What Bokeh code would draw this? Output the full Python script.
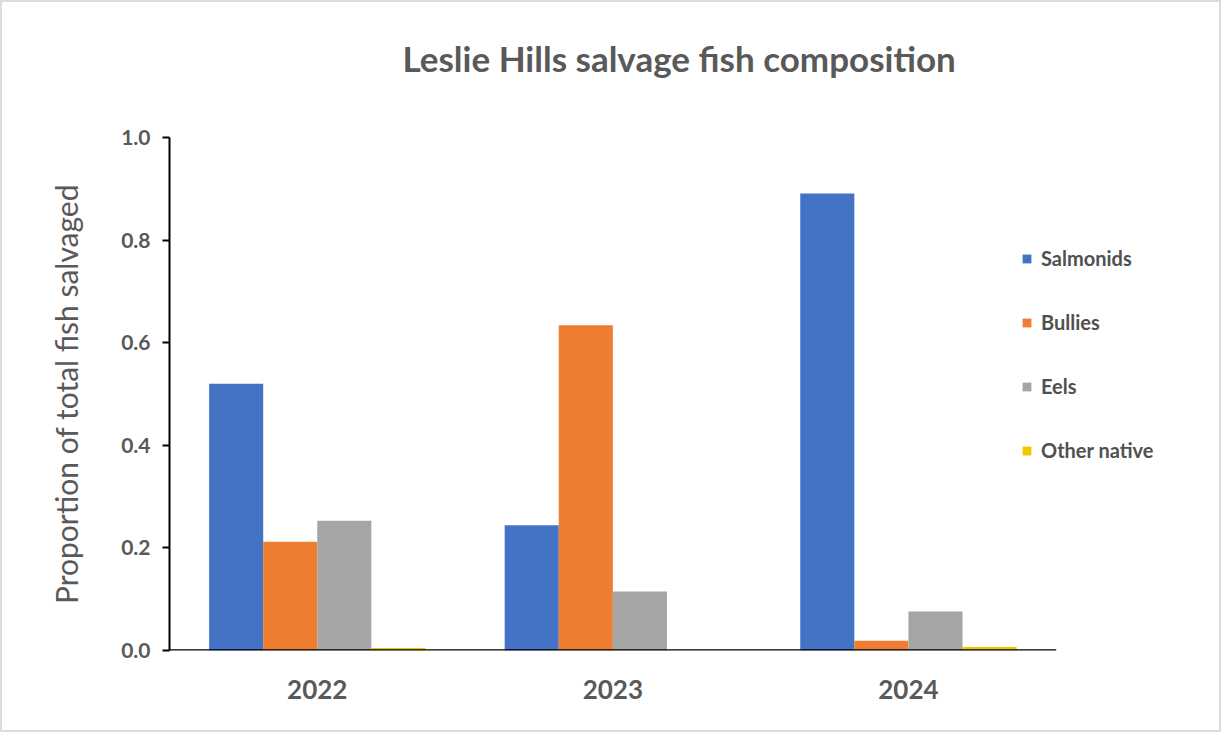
from bokeh.plotting import figure
from bokeh.models import ColumnDataSource, Range1d, Legend, LegendItem, Title, FixedTicker, NumeralTickFormatter
from bokeh.embed import file_html
from bokeh.resources import INLINE

years = ["2022", "2023", "2024"]
species = ["Salmonids", "Bullies", "Eels", "Other native"]
salmonids = [0.520, 0.244, 0.891]
bullies = [0.212, 0.634, 0.019]
eels = [0.253, 0.115, 0.076]
other_native = [0.005, 0.0, 0.007]
colors = ["#4472C4", "#ED7D31", "#A5A5A5", "#F0C800"]
title_text = "Leslie Hills salvage fish composition"
y_label = "Proportion of total fish salvaged"
y_ticks = [0.0, 0.2, 0.4, 0.6, 0.8, 1.0]

xpos = [i + 0.5 for i in range(len(years))]
src = ColumnDataSource(dict(x=xpos, Salmonids=salmonids, Bullies=bullies,
                            Eels=eels, Other=other_native))

FONT = "Lato"
n = len(years)
p = figure(x_range=Range1d(0, n + 0.566), y_range=Range1d(0, 1.0),
           width=1221, height=732, output_backend="svg", toolbar_location=None,
           min_border_left=167, min_border_right=0, min_border_top=135, min_border_bottom=84)
p.styles = {"border": "2px solid #dcdcdc"}
p.outline_line_color = None
p.xgrid.grid_line_color = None
p.ygrid.grid_line_color = None

bw = 0.183
offsets = [-1.5 * bw, -0.5 * bw, 0.5 * bw, 1.5 * bw]
cols = ["Salmonids", "Bullies", "Eels", "Other"]
items = []
for c, off, col, name in zip(cols, offsets, colors, species):
    r = p.vbar(x=[v + off for v in xpos], top=src.data[c], width=bw,
               fill_color=col, line_color=None)
    items.append(LegendItem(label=name, renderers=[r]))

# x axis baseline across the categories only
p.segment(x0=[0], x1=[n], y0=[0], y1=[0], line_color="black", line_width=2.5)

legend = Legend(items=items, location=(852, 188), orientation="vertical",
                glyph_width=11, glyph_height=11, label_height=20, spacing=40,
                label_standoff=9, padding=0, margin=0, border_line_color=None,
                background_fill_alpha=0, label_text_font=FONT,
                label_text_font_size="20px", label_text_font_style="bold",
                label_text_color="#505050")
p.add_layout(legend, "center")

# axes
p.yaxis.ticker = FixedTicker(ticks=y_ticks)
p.yaxis.formatter = NumeralTickFormatter(format="0.0")
p.yaxis.axis_line_color = "black"
p.yaxis.axis_line_width = 2
p.yaxis.major_tick_line_color = "black"
p.yaxis.major_tick_line_width = 2
p.yaxis.major_tick_out = 7
p.yaxis.major_tick_in = 0
p.yaxis.minor_tick_line_color = None
p.yaxis.major_label_text_font = FONT
p.yaxis.major_label_text_font_size = "21px"
p.yaxis.major_label_text_font_style = "bold"
p.yaxis.major_label_text_color = "#595959"
p.yaxis.major_label_standoff = 12
p.yaxis.axis_label = y_label
p.yaxis.axis_label_text_font = FONT
p.yaxis.axis_label_text_font_size = "30px"
p.yaxis.axis_label_text_font_style = "normal"
p.yaxis.axis_label_text_color = "#595959"
p.yaxis.axis_label_standoff = 34

p.xaxis.ticker = FixedTicker(ticks=xpos)
p.xaxis.major_label_overrides = {x: y for x, y in zip(xpos, years)}
p.xaxis.axis_line_color = None
p.xaxis.major_tick_line_color = None
p.xaxis.minor_tick_line_color = None
p.xaxis.major_label_text_font = FONT
p.xaxis.major_label_text_font_size = "26px"
p.xaxis.major_label_text_font_style = "bold"
p.xaxis.major_label_text_color = "#595959"
p.xaxis.major_label_standoff = 23

# spacer title between frame and the real title
spacer = Title(text=" ", standoff=56, text_font_size="1px")
p.add_layout(spacer, "above")
title = Title(text=title_text, align="left", offset=233, standoff=0,
              text_font=FONT, text_font_size="35px", text_font_style="bold",
              text_color="#595959")
p.add_layout(title, "above")

open("out.html", "w").write(file_html(p, INLINE))
